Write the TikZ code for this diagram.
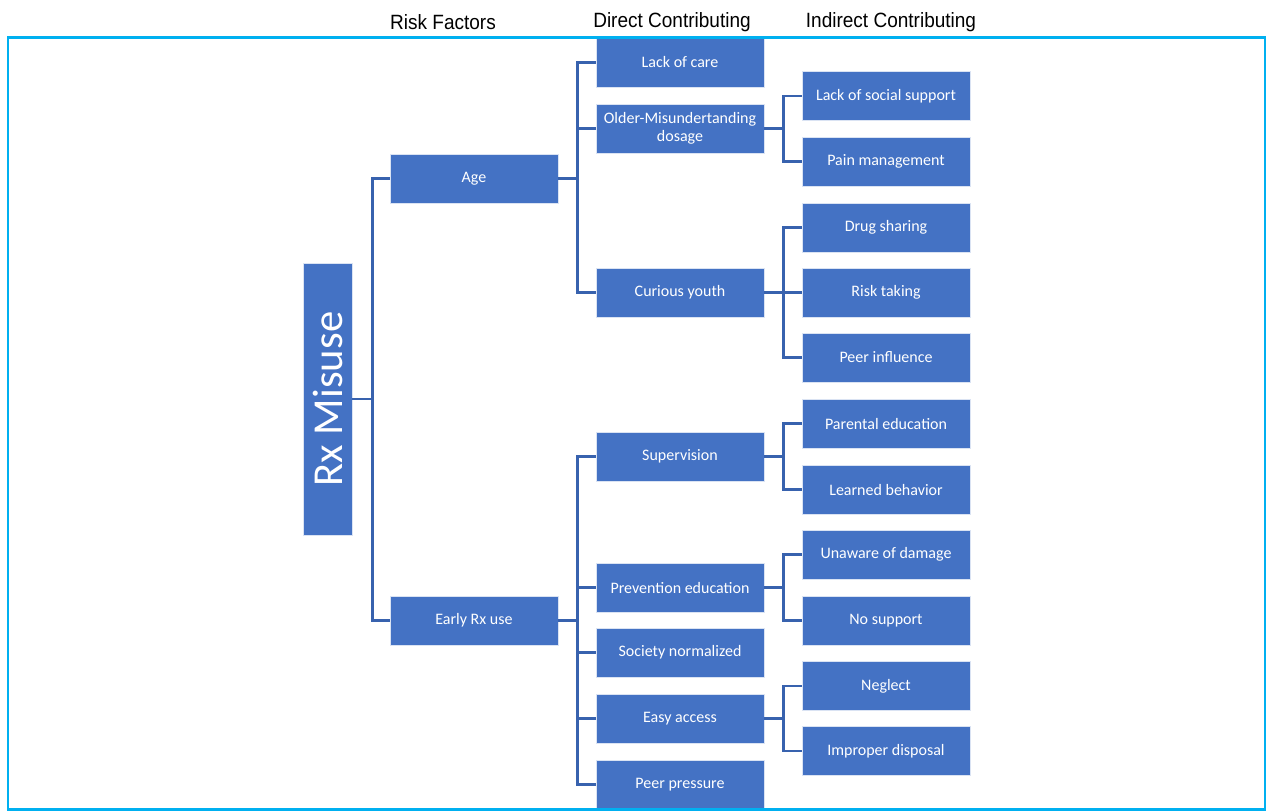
\documentclass[tikz,border=0pt]{standalone}
\usepackage{fontspec}
\setmainfont{Carlito}
\newfontfamily\headfont{Liberation Sans}
\definecolor{boxblue}{HTML}{4472C4}
\definecolor{linkblue}{HTML}{3862AE}
\definecolor{framecyan}{HTML}{00B0F0}

\begin{document}
\begin{tikzpicture}[x=0.75pt,y=-0.75pt,
    factor/.style={fill=boxblue, draw=white!80!boxblue, line width=0.4pt, text=white,
        minimum width=126pt, minimum height=36.75pt, inner sep=1pt, align=center,
        font=\fontsize{12}{13.5}\selectfont},
    link/.style={draw=linkblue, line width=1.9pt},
    heading/.style={font=\headfont\fontsize{15.5}{18}\selectfont, xscale=0.92}]
    \useasboundingbox (0,0) rectangle (1267,811);

    % ===== column headings =====
    \node[heading] (hrisk) at (443,22) {Risk Factors};
    \node[heading] (hdirect) at (672,22) {Direct Contributing};
    \node[heading] (hindirect) at (891,22) {Indirect Contributing};

    % ===== root =====
    \node[factor, minimum width=36.75pt, minimum height=204pt] (rx) at (327.5,399) {};
    \node[rotate=90, text=white, font=\fontsize{32}{36}\selectfont] (rxtext) at (rx.center) {Rx Misuse};

    % ===== risk factors =====
    \node[factor] (age) at (474,178.5) {Age};
    \node[factor] (early) at (474,620.5) {Early Rx use};

    % ===== direct contributing =====
    \node[factor] (care) at (680,62.5) {Lack of care};
    \node[factor] (older) at (680,128.5) {Older-Misundertanding\\dosage};
    \node[factor] (curious) at (680,292.5) {Curious youth};
    \node[factor] (superv) at (680,456.5) {Supervision};
    \node[factor] (prevent) at (680,587.5) {Prevention education};
    \node[factor] (society) at (680,652.5) {Society normalized};
    \node[factor] (easy) at (680,718.5) {Easy access};
    \node[factor] (peer) at (680,784.5) {Peer pressure};

    % ===== indirect contributing =====
    \node[factor] (socsup) at (886,96) {Lack of social support};
    \node[factor] (pain) at (886,161.5) {Pain management};
    \node[factor] (sharing) at (886,227.5) {Drug sharing};
    \node[factor] (risk) at (886,292.5) {Risk taking};
    \node[factor] (peerinf) at (886,357.5) {Peer influence};
    \node[factor] (parental) at (886,423.5) {Parental education};
    \node[factor] (learned) at (886,489.5) {Learned behavior};
    \node[factor] (unaware) at (886,554.5) {Unaware of damage};
    \node[factor] (nosupport) at (886,620.5) {No support};
    \node[factor] (neglect) at (886,686) {Neglect};
    \node[factor] (disposal) at (886,751) {Improper disposal};

    % ===== brackets =====
    \foreach \n in {age,early}
        \draw[link] (rx.east) -- ++(20,0) |- (\n.west);
    \foreach \n in {care,older,curious}
        \draw[link] (age.east) -- ++(19,0) |- (\n.west);
    \foreach \n in {superv,prevent,society,easy,peer}
        \draw[link] (early.east) -- ++(19,0) |- (\n.west);
    \foreach \n in {socsup,pain}
        \draw[link] (older.east) -- ++(19,0) |- (\n.west);
    \foreach \n in {sharing,risk,peerinf}
        \draw[link] (curious.east) -- ++(19,0) |- (\n.west);
    \foreach \n in {parental,learned}
        \draw[link] (superv.east) -- ++(19,0) |- (\n.west);
    \foreach \n in {unaware,nosupport}
        \draw[link] (prevent.east) -- ++(19,0) |- (\n.west);
    \foreach \n in {neglect,disposal}
        \draw[link] (easy.east) -- ++(19,0) |- (\n.west);

    % outer frame
    \draw[framecyan, line width=2.2pt] (8,37.5) rectangle (1265,809.5);
\end{tikzpicture}
\end{document}
